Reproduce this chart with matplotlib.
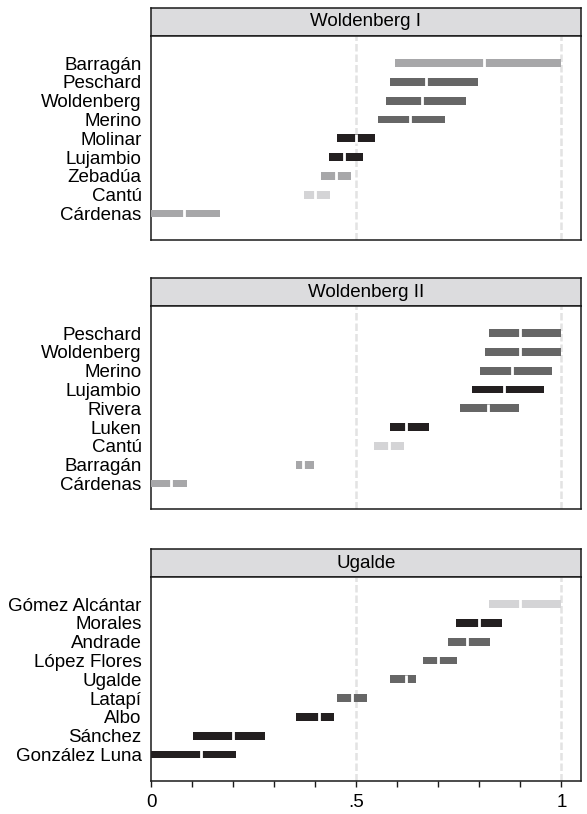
import matplotlib
matplotlib.use('Agg')
import matplotlib.pyplot as plt
import numpy as np

plt.rcParams['font.family'] = ['Liberation Sans', 'DejaVu Sans']

# panel titles
titles = ['Woldenberg I', 'Woldenberg II', 'Ugalde']

# rows listed bottom to top
names_w1 = ['Cárdenas', 'Cantú', 'Zebadúa', 'Lujambio', 'Molinar',
            'Merino', 'Woldenberg', 'Peschard', 'Barragán']
lo_w1 = [0.0, 0.372, 0.413, 0.433, 0.453, 0.553, 0.572, 0.582, 0.593]
mid_w1 = [0.079, 0.399, 0.450, 0.469, 0.500, 0.630, 0.659, 0.669, 0.810]
hi_w1 = [0.167, 0.436, 0.487, 0.516, 0.546, 0.716, 0.767, 0.797, 1.0]
grp_w1 = ['m', 'l', 'm', 'k', 'k', 'd', 'd', 'd', 'm']

names_w2 = ['Cárdenas', 'Barragán', 'Cantú', 'Luken', 'Rivera',
            'Lujambio', 'Merino', 'Woldenberg', 'Peschard']
lo_w2 = [0.0, 0.353, 0.543, 0.582, 0.753, 0.782, 0.802, 0.813, 0.824]
mid_w2 = [0.049, 0.369, 0.579, 0.620, 0.820, 0.860, 0.880, 0.900, 0.900]
hi_w2 = [0.087, 0.397, 0.616, 0.677, 0.897, 0.957, 0.977, 1.0, 1.0]
grp_w2 = ['m', 'm', 'l', 'k', 'd', 'k', 'd', 'd', 'd']

names_ug = ['González Luna', 'Sánchez', 'Albo', 'Latapí', 'Ugalde',
            'López Flores', 'Andrade', 'Morales', 'Gómez Alcántar']
lo_ug = [0.0, 0.102, 0.353, 0.453, 0.582, 0.663, 0.723, 0.743, 0.824]
mid_ug = [0.120, 0.200, 0.410, 0.489, 0.620, 0.700, 0.770, 0.799, 0.900]
hi_ug = [0.207, 0.277, 0.446, 0.526, 0.646, 0.746, 0.826, 0.856, 1.0]
grp_ug = ['k', 'k', 'k', 'd', 'd', 'd', 'd', 'k', 'l']

xticks = [0, 0.5, 1]
xticklabels = ['0', '.5', '1']

colors = {'k': '#231f20', 'd': '#666666', 'm': '#a7a7a9', 'l': '#d4d4d6'}

panels = [
    (names_w1, lo_w1, mid_w1, hi_w1, grp_w1),
    (names_w2, lo_w2, mid_w2, hi_w2, grp_w2),
    (names_ug, lo_ug, mid_ug, hi_ug, grp_ug),
]

W, H = 587, 814
fig = plt.figure(figsize=(W / 100, H / 100), dpi=100)

x0, x1 = 151.3, 580.7
tops = [8, 278, 549]
hdr_h = 28
plot_h = 203.5

for i, (names, lo, mid, hi, grp) in enumerate(panels):
    top = tops[i]
    # header strip
    hax = fig.add_axes([x0 / W, 1 - (top + hdr_h) / H, (x1 - x0) / W, hdr_h / H])
    hax.set_facecolor('#dcdcde')
    hax.set_xticks([])
    hax.set_yticks([])
    for s in hax.spines.values():
        s.set_linewidth(1.1)
        s.set_color('#1a1a1a')
    hax.text(0.5, 0.5, titles[i], ha='center', va='center', fontsize=13.5,
             transform=hax.transAxes)

    ax = fig.add_axes([x0 / W, 1 - (top + hdr_h + plot_h) / H,
                       (x1 - x0) / W, plot_h / H])
    y = np.arange(1, len(names) + 1)
    lo = np.array(lo)
    hi = np.array(hi)
    cols = [colors[g] for g in grp]
    ax.barh(y, hi - lo, left=lo, height=0.42, color=cols, zorder=3)
    for yy, m in zip(y, mid):
        ax.plot([m, m], [yy - 0.25, yy + 0.25], color='white', lw=2.0,
                solid_capstyle='butt', zorder=4)
    for g in [0.5, 1.0]:
        ax.axvline(g, color='#e3e3e3', lw=1.8, ls=(0, (3, 1.2)), zorder=1)

    ax.set_xlim(0, 1.047)
    ax.set_ylim(-0.38, 10.44)
    ax.set_yticks(y)
    ax.set_yticklabels(names, fontsize=13.5)
    ax.tick_params(axis='y', length=0, pad=7)
    for s in ax.spines.values():
        s.set_linewidth(1.1)
        s.set_color('#1a1a1a')

    if i == 2:
        ax.set_xticks(xticks)
        ax.set_xticklabels(xticklabels, fontsize=13.5)
        ax.set_xticks(np.arange(0, 1.01, 0.1), minor=True)
        ax.tick_params(axis='x', which='both', length=4, width=1.0,
                       direction='out', pad=6, color='#1a1a1a')
    else:
        ax.set_xticks([])

fig.savefig('out.png', dpi=100)
